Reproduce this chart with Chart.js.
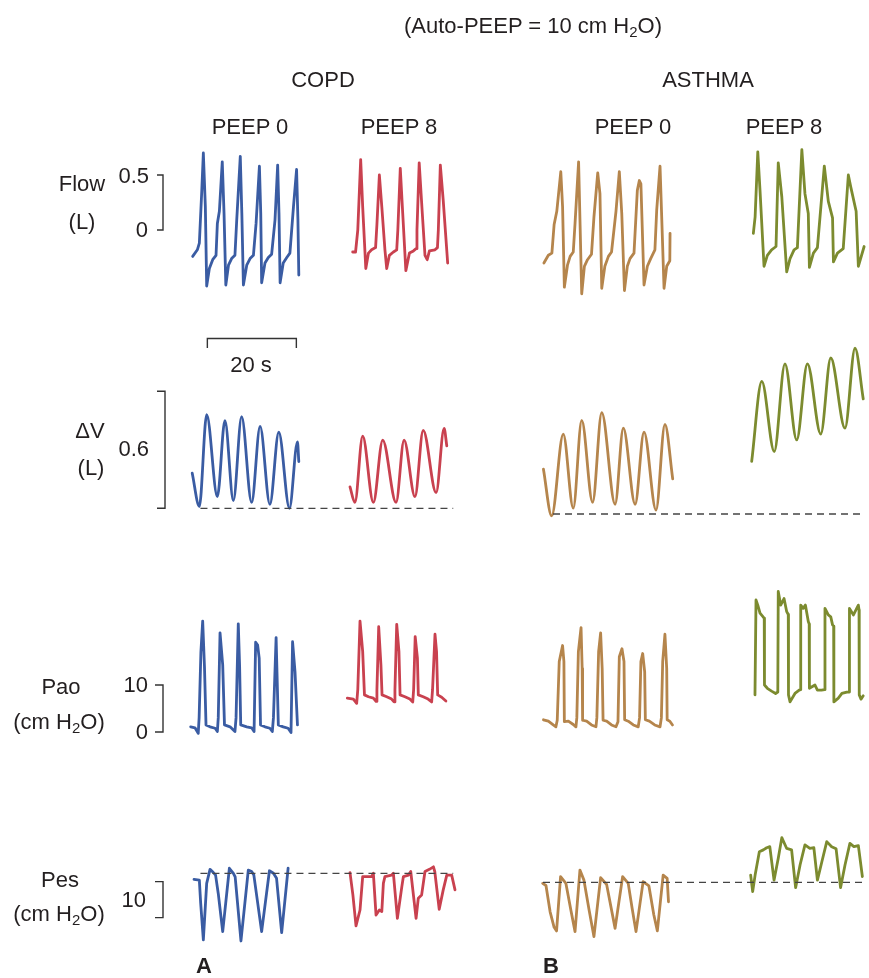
<!DOCTYPE html>
<html><head><meta charset="utf-8">
<script src="https://cdn.jsdelivr.net/npm/chart.js@4.4.1/dist/chart.umd.min.js"></script>
<style>
html,body{margin:0;padding:0;background:#fff;}
#wrap{position:relative;width:869px;height:978px;overflow:hidden;background:#fff;}
#c{position:absolute;left:0;top:0;}
.t{position:absolute;font-family:"Liberation Sans",Arial,sans-serif;font-size:22px;line-height:1;color:#231f20;white-space:nowrap;}
.c{transform:translate(-50%,-50%);}
.r{transform:translate(-100%,-50%);}
.t sub{font-size:0.68em;line-height:0;vertical-align:-0.3em;}
.b{font-weight:bold;}
</style></head><body>
<div id="wrap"><canvas id="c" width="869" height="978"></canvas></div>
<script>
// ---------- DATA (time in s from panel start, values in physical units) ----------
// Flow (L)
const copdPeep0Flow = [[0.15,-0.24],[1.2,-0.18],[1.65,-0.12],[2.2,0.36],[2.55,0.70],[3.0,0.21],[3.3,-0.51],[3.9,-0.35],[4.65,-0.27],[5.4,-0.23],[5.7,0.06],[6.15,0.17],[6.8,0.62],[7.2,0.15],[7.6,-0.50],[8.2,-0.32],[8.9,-0.26],[9.65,-0.23],[10.05,0.09],[10.85,0.67],[11.2,0.15],[11.55,-0.50],[12.3,-0.32],[13.05,-0.26],[13.8,-0.23],[14.4,0.06],[15.15,0.58],[15.45,0.15],[15.65,-0.48],[16.4,-0.30],[17.15,-0.25],[17.9,-0.22],[18.65,0.09],[19.25,0.59],[19.55,0.15],[19.8,-0.48],[20.5,-0.30],[21.3,-0.25],[22.0,-0.21],[22.8,0.21],[23.5,0.55],[23.8,0.10],[24.0,-0.41]];
const copdPeep8Flow = [[0.15,-0.20],[0.8,-0.20],[1.3,0.0],[1.95,0.64],[2.4,0.21],[3.1,-0.35],[3.7,-0.21],[4.4,-0.18],[5.3,-0.16],[5.6,0.05],[6.15,0.50],[6.7,0.21],[7.4,-0.18],[7.8,-0.35],[8.4,-0.23],[9.3,-0.20],[10.05,-0.18],[10.3,0.0],[10.85,0.56],[11.4,0.15],[12.1,-0.37],[12.9,-0.21],[13.8,-0.19],[14.4,-0.17],[14.6,0.0],[15.1,0.61],[15.8,0.15],[16.4,-0.23],[16.9,-0.27],[17.4,-0.19],[18.65,-0.18],[19.2,-0.16],[19.4,0.0],[19.85,0.59],[20.5,0.27],[21.5,-0.30]];
const asthmaPeep0Flow = [[0.2,-0.30],[1.2,-0.23],[2.0,-0.21],[2.5,0.05],[3.1,0.17],[4.0,0.53],[4.4,0.21],[4.8,-0.52],[5.5,-0.32],[6.1,-0.24],[6.8,-0.20],[7.2,0.06],[8.0,0.62],[8.7,-0.58],[9.3,-0.33],[10.0,-0.27],[10.9,-0.22],[11.45,0.12],[12.3,0.52],[12.8,0.33],[13.2,-0.53],[13.9,-0.33],[14.7,-0.24],[15.4,-0.20],[16.4,0.17],[17.15,0.53],[17.7,0.15],[18.3,-0.55],[18.95,-0.33],[19.55,-0.26],[20.45,-0.21],[21.2,0.36],[21.65,0.45],[22.0,0.42],[22.7,-0.50],[23.45,-0.33],[24.2,-0.26],[25.15,-0.18],[25.55,0.18],[26.3,0.58],[27.2,-0.53],[27.8,-0.33],[28.5,-0.28],[28.55,-0.03]];
const asthmaPeep8Flow = [[0.3,-0.03],[0.7,0.12],[1.3,0.71],[1.8,0.36],[2.7,-0.33],[3.45,-0.23],[4.4,-0.18],[5.4,-0.15],[5.9,0.61],[6.7,0.30],[7.8,-0.38],[8.55,-0.26],[9.45,-0.18],[10.2,-0.16],[11.2,0.73],[11.9,0.33],[12.65,0.15],[12.9,-0.34],[13.8,-0.21],[14.7,-0.16],[16.25,0.58],[17.15,0.26],[18.1,0.11],[18.3,-0.29],[19.2,-0.21],[20.5,-0.17],[21.65,0.50],[22.2,0.39],[23.4,0.17],[23.9,-0.33],[25.2,-0.15]];
// Volume change ΔV (L), relative to the dashed end-expiratory line
const copdPeep0DV = [[0.05,0.18],[1.65,0.01],[3.3,0.48],[5.7,0.06],[7.4,0.45],[9.3,0.04],[11.15,0.47],[13.4,0.03],[15.3,0.42],[17.5,0.02],[19.5,0.39],[21.9,0.0],[23.7,0.34],[24.0,0.24]];
const copdPeep8DV = [[-0.45,0.11],[0.65,0.03],[2.4,0.37],[4.8,0.03],[6.9,0.35],[9.9,0.03],[11.7,0.35],[14.15,0.06],[16.0,0.40],[18.9,0.08],[20.7,0.41],[21.3,0.32]];
const asthmaPeep0DV = [[0.1,0.23],[1.95,-0.01],[4.55,0.41],[6.8,0.03],[8.7,0.48],[11.15,0.06],[13.2,0.52],[16.2,0.05],[18.05,0.44],[20.7,0.05],[22.7,0.42],[25.4,0.02],[27.4,0.46],[29.15,0.18]];
const asthmaPeep8DV = [[-0.07,0.27],[2.2,0.68],[5.0,0.32],[7.4,0.77],[10.05,0.38],[12.45,0.77],[15.45,0.41],[17.7,0.80],[20.9,0.44],[23.15,0.85],[25.0,0.59]];
// Airway opening pressure Pao (cm H2O)
const copdPeep0Pao = [[-0.3,1.1],[0.67,0.9],[1.4,-0.3],[1.6,3],[2.0,17],[2.4,23.6],[2.8,14],[3.15,1.5],[4.05,1.1],[5.2,0.8],[5.7,0.1],[5.9,3],[6.3,21.1],[6.9,14.3],[7.3,1.5],[8.55,1.1],[9.65,0.1],[9.9,3],[10.4,23.0],[10.7,14],[10.95,1.5],[12.3,1.1],[13.4,0.9],[13.95,0.1],[14.3,19.1],[14.75,18.5],[15.1,15.7],[15.4,1.5],[16.4,1.1],[17.5,0.8],[18.05,0.1],[18.3,3],[18.9,20.1],[19.4,1.5],[20.5,1.1],[21.6,0.8],[22.25,-0.1],[22.6,19.2],[23.15,12.8],[23.7,1.5]];
const copdPeep8Pao = [[-1.05,7.2],[0.3,7.0],[1.05,6.1],[1.3,9],[1.8,23.6],[2.4,17.1],[2.8,7.9],[3.7,7.5],[4.8,7.2],[5.4,6.5],[5.6,9],[6.0,22.4],[6.5,14.3],[6.75,7.9],[7.8,7.5],[8.9,7.0],[9.45,6.4],[9.65,9],[10.05,22.9],[10.55,17.1],[10.8,7.9],[11.9,7.5],[13.0,7.0],[13.65,6.4],[13.85,9],[14.2,20.3],[14.7,15.7],[14.9,7.9],[16.0,7.5],[17.1,7.0],[17.9,6.4],[18.1,9],[18.65,20.8],[19.0,17.1],[19.25,7.9],[20.15,7.4],[21.1,6.6]];
const asthmaPeep0Pao = [[0.1,2.6],[1.2,2.3],[2.3,1.5],[2.9,1.1],[3.2,2.5],[3.65,15.0],[4.4,18.4],[4.7,15.0],[4.8,2.2],[5.7,2.3],[6.8,1.6],[7.4,1.1],[7.6,3],[7.95,17.1],[8.55,22.2],[8.8,13.5],[8.9,2.5],[9.8,2.3],[10.9,1.5],[11.9,1.1],[12.1,3],[12.5,17.1],[12.95,21.1],[13.3,13.5],[13.5,2.5],[14.3,2.3],[15.4,1.5],[16.4,1.1],[16.85,2.2],[17.15,16.0],[17.75,17.7],[18.2,15.0],[18.35,2.6],[19.15,2.3],[20.3,1.5],[21.4,1.1],[21.7,3],[22.0,15.0],[22.4,16.7],[22.85,12.8],[23.0,2.6],[23.9,2.3],[25.1,1.5],[26.3,1.1],[26.6,3],[26.9,15.0],[27.4,20.8],[27.8,13.5],[27.9,2.6],[28.5,2.3],[29.1,1.5]];
const asthmaPeep8Pao = [[0.67,7.9],[0.9,28.1],[1.3,27.0],[1.8,25.3],[2.5,24.5],[2.75,24.2],[2.8,10.0],[3.45,9.3],[4.4,8.7],[5.3,8.2],[5.8,8.5],[5.9,29.9],[6.45,27.0],[7.2,28.4],[7.8,25.6],[8.15,25],[8.2,7.9],[8.55,6.4],[9.65,8.2],[10.6,8.9],[10.9,9],[10.95,27.0],[11.5,26.3],[12.0,27.0],[12.65,23.5],[12.85,23],[12.9,9.3],[14.15,10.0],[14.7,8.9],[15.6,8.9],[16.35,9],[16.4,26.3],[17.15,24.9],[17.7,24.5],[18.1,22.8],[18.35,22.5],[18.4,6.4],[19.4,7.2],[20.2,8.2],[21.3,8.5],[21.85,8.5],[21.9,26.3],[22.8,24.9],[23.9,27.0],[24.05,26],[24.1,7.9],[24.5,7.0],[25.0,7.7]];
// Esophageal pressure Pes (cm H2O), relative to the dashed line
const copdPeep0Pes = [[0.45,-1.7],[1.65,-1.9],[1.95,-8.3],[2.55,-18.5],[3.3,-2.8],[4.05,1.1],[4.8,0.2],[5.3,-0.5],[5.9,-5.6],[6.9,-16.2],[8.4,1.4],[9.3,0],[9.7,-1],[11.0,-18.8],[12.65,0.9],[13.4,0.5],[13.9,-0.5],[15.65,-16.2],[17.4,0.7],[18.3,0],[19.0,-1.4],[20.15,-16.5],[21.6,1.4]];
const copdPeep8Pes = [[-0.45,0.2],[0.2,-6],[0.9,-14.6],[1.8,-10.2],[2.4,-0.9],[3.3,-0.9],[4.4,-0.9],[4.8,0],[5.4,-11.6],[6.15,-10.2],[6.7,-10.6],[7.05,-2.8],[7.4,-0.9],[8.9,-0.5],[9.3,0],[10.2,-12.5],[11.2,-3.7],[11.55,-0.9],[12.7,-0.5],[13.2,0.5],[14.4,-12.5],[14.9,-6.9],[15.65,-6.0],[16.4,0.5],[17.4,1.1],[18.3,1.8],[18.6,0.5],[19.6,-10.0],[20.5,-4.6],[21.3,-0.5],[22.4,-0.5],[23.15,-4.6]];
const asthmaPeep0Pes = [[-0.07,-0.3],[0.67,-0.9],[1.6,-8.2],[2.5,-12.5],[3.05,-13.5],[3.95,1.6],[5.15,-0.3],[6.3,-8],[7.2,-13.7],[8.3,3.4],[9.2,0.6],[10.4,-8],[11.45,-15.1],[12.95,1.3],[14.3,-0.6],[16.2,-12.8],[16.9,-6.8],[17.9,1.6],[19.15,-0.3],[20.0,-7],[20.9,-13.7],[22.5,0.2],[23.8,-1],[24.9,-9],[25.7,-13.5],[27.0,2.0],[27.9,1.1],[28.2,-5.4]];
const asthmaPeep8Pes = [[-0.3,2.0],[0.15,-2.6],[0.7,2.0],[1.65,8.5],[2.55,9.0],[3.3,9.6],[4.0,9.9],[4.95,0.6],[5.9,6.7],[6.7,12.4],[7.8,9.4],[8.9,9.0],[9.8,-1.5],[10.8,4.8],[11.9,10.4],[13.0,9.4],[13.9,9.6],[14.7,0.6],[15.7,5.7],[16.8,11.3],[17.9,9.9],[18.9,9.3],[19.9,-1.5],[20.9,4.8],[22.0,10.8],[22.9,9.9],[23.9,10.2],[24.8,1.6]];
// reference (dashed) lines: [t start, t end] on the left panel's time axis of each group
const copdRefSpan = [1.9, 58.7];
const asthmaDVRefSpan = [2.25, 71.9];
const asthmaPesRefSpan = [0, 71.9];
// calibration bars
const FLOW_BAR = [0, 0.5];
const DV_BAR = [0, 0.6];
const PAO_BAR = [0, 10];
const PES_BAR = [-12.3, -2.3];
const TIME_BAR = [3.45, 23.45]; // 20 s

// ---------- LAYOUT ----------
const W = 869, H = 978;
const PX_PER_S = 89 / 20;
const colStart = [192, 352, 543, 752];
const COL = ['#3a5ca3', '#c9414f', '#b5854c', '#7c8b2f'];
function xScale(px){ return {type:'linear', display:false, min:-px/PX_PER_S, max:(W-px)/PX_PER_S}; }
function yScale(zeroPx, pxPerUnit){ return {type:'linear', display:false, min:-(H-zeroPx)/pxPerUnit, max:zeroPx/pxPerUnit}; }

const pts = a => a.map(([x,y]) => ({x, y}));
function trace(arr, col, yId, smooth){
  return {data: pts(arr), xAxisID:'x'+col, yAxisID:yId, borderColor:COL[col], borderWidth:2.8,
    pointRadius:0, fill:false, tension:0, cubicInterpolationMode: smooth ? 'monotone' : 'default',
    borderJoinStyle:'round', borderCapStyle:'round'};
}
function refLine(span, col, yId){
  return {data: pts([[span[0],0],[span[1],0]]), xAxisID:'x'+col, yAxisID:yId, borderColor:'#444',
    borderWidth:1.3, borderDash:[7,5], pointRadius:0, fill:false, tension:0};
}

const datasets = [
  refLine(copdRefSpan, 0, 'yDVc'), refLine(asthmaDVRefSpan, 2, 'yDVa'),
  refLine(copdRefSpan, 0, 'yPesC'), refLine(asthmaPesRefSpan, 2, 'yPesA'),
  trace(copdPeep0Flow, 0, 'yFlow'), trace(copdPeep8Flow, 1, 'yFlow'),
  trace(asthmaPeep0Flow, 2, 'yFlow'), trace(asthmaPeep8Flow, 3, 'yFlow'),
  trace(copdPeep0DV, 0, 'yDVc', true), trace(copdPeep8DV, 1, 'yDVc', true),
  trace(asthmaPeep0DV, 2, 'yDVa', true), trace(asthmaPeep8DV, 3, 'yDVa', true),
  trace(copdPeep0Pao, 0, 'yPao'), trace(copdPeep8Pao, 1, 'yPao'),
  trace(asthmaPeep0Pao, 2, 'yPao'), trace(asthmaPeep8Pao, 3, 'yPao'),
  trace(copdPeep0Pes, 0, 'yPesC'), trace(copdPeep8Pes, 1, 'yPesC'),
  trace(asthmaPeep0Pes, 2, 'yPesA'), trace(asthmaPeep8Pes, 3, 'yPesA')
];

const calib = {
  id: 'calib',
  afterDatasetsDraw(chart){
    const {ctx, scales:s} = chart;
    ctx.save();
    ctx.strokeStyle = '#333'; ctx.lineWidth = 1.4; ctx.lineCap = 'butt';
    function bracket(x, y1, y2, tick){
      ctx.beginPath(); ctx.moveTo(x-tick, y1); ctx.lineTo(x, y1); ctx.lineTo(x, y2); ctx.lineTo(x-tick, y2); ctx.stroke();
    }
    bracket(163, s.yFlow.getPixelForValue(FLOW_BAR[1]), s.yFlow.getPixelForValue(FLOW_BAR[0]), 6);
    bracket(165, s.yDVc.getPixelForValue(DV_BAR[1]), s.yDVc.getPixelForValue(DV_BAR[0]), 8);
    bracket(163, s.yPao.getPixelForValue(PAO_BAR[1]), s.yPao.getPixelForValue(PAO_BAR[0]), 8);
    bracket(163, s.yPesC.getPixelForValue(PES_BAR[1]), s.yPesC.getPixelForValue(PES_BAR[0]), 8);
    const xa = s.x0.getPixelForValue(TIME_BAR[0]), xb = s.x0.getPixelForValue(TIME_BAR[1]);
    ctx.beginPath(); ctx.moveTo(xa, 348); ctx.lineTo(xa, 338.5); ctx.lineTo(xb, 338.5); ctx.lineTo(xb, 348); ctx.stroke();
    ctx.restore();
  }
};

new Chart(document.getElementById('c'), {
  type: 'line',
  data: {datasets},
  options: {
    responsive:false, animation:false, maintainAspectRatio:false,
    layout:{padding:0},
    events: [],
    plugins:{legend:{display:false}, tooltip:{enabled:false}, title:{display:false}},
    scales:{
      x0: xScale(colStart[0]), x1: xScale(colStart[1]), x2: xScale(colStart[2]), x3: xScale(colStart[3]),
      yFlow: yScale(230, 110),
      yDVc: yScale(508.3, 195), yDVa: yScale(514, 195),
      yPao: yScale(732, 4.7),
      yPesC: yScale(873.3, 3.6), yPesA: yScale(882.3, 3.6)
    }
  },
  plugins:[calib]
});

// ---------- TEXT ----------
const labels = [
  ['(Auto-PEEP = 10 cm H<sub>2</sub>O)', 533, 26, 'c'],
  ['COPD', 323, 80, 'c'], ['ASTHMA', 708, 80, 'c'],
  ['PEEP 0', 250, 127, 'c'], ['PEEP 8', 399, 127, 'c'], ['PEEP 0', 633, 127, 'c'], ['PEEP 8', 784, 127, 'c'],
  ['Flow', 82, 184, 'c'], ['(L)', 82, 222, 'c'], ['0.5', 149, 176, 'r'], ['0', 148, 230, 'r'],
  ['20 s', 251, 365, 'c'],
  ['ΔV', 90, 431, 'c'], ['(L)', 91, 468, 'c'], ['0.6', 149, 449, 'r'],
  ['Pao', 61, 687, 'c'], ['(cm H<sub>2</sub>O)', 59, 722, 'c'], ['10', 148, 685, 'r'], ['0', 148, 732, 'r'],
  ['Pes', 60, 880, 'c'], ['(cm H<sub>2</sub>O)', 59, 914, 'c'], ['10', 146, 900, 'r'],
  ['A', 204, 966, 'c b'], ['B', 551, 966, 'c b']
];
const wrap = document.getElementById('wrap');
for (const [html, x, y, cls] of labels){
  const d = document.createElement('div');
  d.className = 't ' + cls; d.innerHTML = html;
  d.style.left = x + 'px'; d.style.top = y + 'px';
  wrap.appendChild(d);
}
</script>
</body></html>
